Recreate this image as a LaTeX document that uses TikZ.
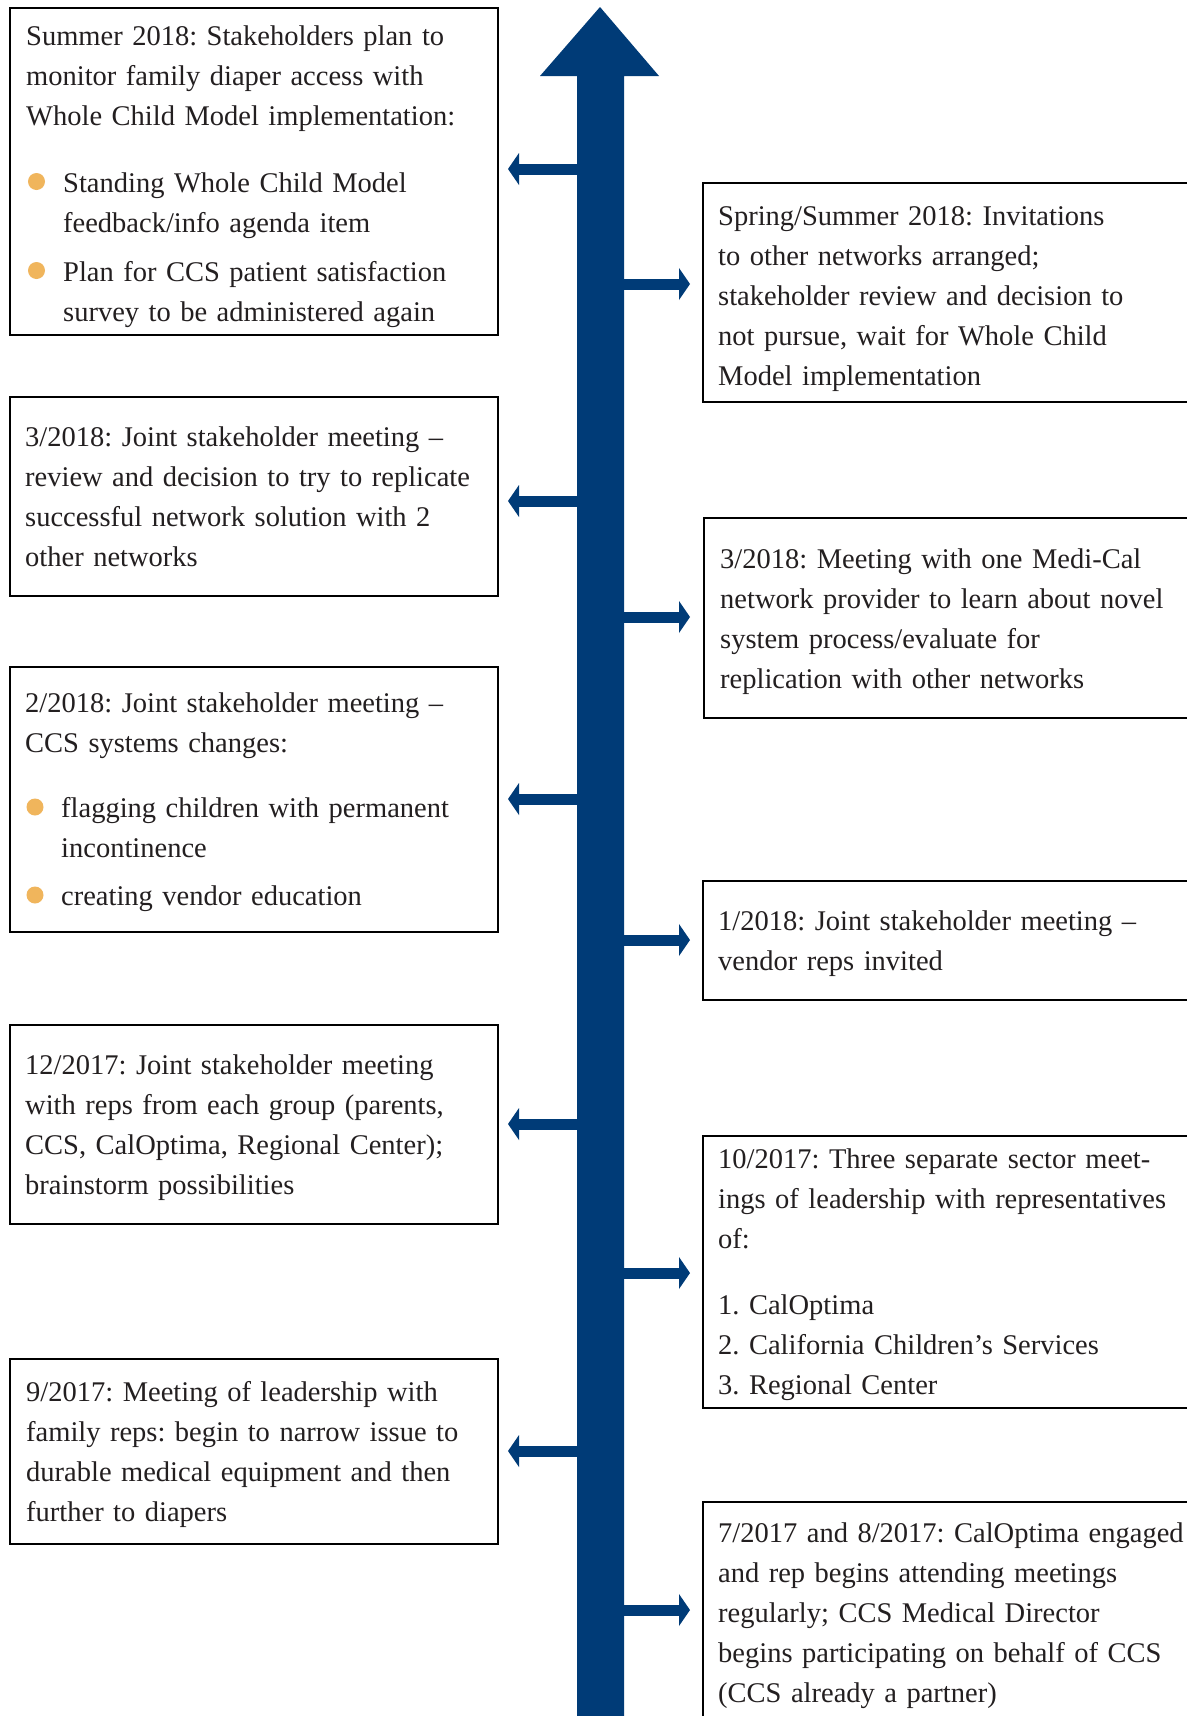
\documentclass[tikz,border=0pt]{standalone}
\usepackage{fontspec}
\setmainfont{Liberation Serif}
\usetikzlibrary{arrows.meta}
\definecolor{navy}{RGB}{0,59,119}
\definecolor{bul}{RGB}{240,181,92}
\definecolor{ink}{RGB}{35,31,32}
\frenchspacing
\begin{document}
\begin{tikzpicture}[x=1pt,y=-1pt,
  box/.style={draw=black, line width=2pt, inner sep=0pt, anchor=north west},
  txt/.style={anchor=base west, align=left, inner sep=0pt, text width=470pt, text=ink, font=\fontsize{28.5}{40}\selectfont\frenchspacing},
  evarr/.style={draw=navy, line width=11pt, -{Triangle[width=32pt,length=11pt,line width=0pt,fill=navy]}},
  dot/.style={fill=bul}
]
\fill[white] (0,0) rectangle (1186,1716);
\useasboundingbox (0,0) rectangle (1186,1716);

% timeline trunk with arrow head
\fill[navy] (577,1730) -- (577,76) -- (540,76) -- (600,7) -- (659,76) -- (624,76) -- (624,1730) -- cycle;

% boxes
\node[box, minimum width=488pt, minimum height=327pt] (L1) at (9,7) {};
\node[box, minimum width=488pt, minimum height=199pt] (L2) at (9,396) {};
\node[box, minimum width=488pt, minimum height=265pt] (L3) at (9,666) {};
\node[box, minimum width=488pt, minimum height=199pt] (L4) at (9,1024) {};
\node[box, minimum width=488pt, minimum height=185pt] (L5) at (9,1358) {};
\node[box, minimum width=500pt, minimum height=219pt] (R1) at (702,182) {};
\node[box, minimum width=500pt, minimum height=200pt] (R2) at (703,517) {};
\node[box, minimum width=500pt, minimum height=119pt] (R3) at (702,880) {};
\node[box, minimum width=500pt, minimum height=272pt] (R4) at (702,1135) {};
\node[box, minimum width=500pt, minimum height=260pt] (R5) at (702,1501) {};

% texts
\node[txt] (T1) at (26,45) {Summer 2018: Stakeholders plan to\\
monitor family diaper access with\\
Whole Child Model implementation:\\[27pt]
\hspace*{37pt}Standing Whole Child Model\\
\hspace*{37pt}feedback/info agenda item\\[9pt]
\hspace*{37pt}Plan for CCS patient satisfaction\\
\hspace*{37pt}survey to be administered again};
\fill[dot] (36.5,181.5) circle[radius=8.5pt];
\fill[dot] (36.5,270.5) circle[radius=8.5pt];

\node[txt] (T2) at (25,446) {3/2018: Joint stakeholder meeting –\\
review and decision to try to replicate\\
successful network solution with 2\\
other networks};

\node[txt] (T3) at (25,712) {2/2018: Joint stakeholder meeting –\\
CCS systems changes:\\[25pt]
\hspace*{36pt}flagging children with permanent\\
\hspace*{36pt}incontinence\\[8pt]
\hspace*{36pt}creating vendor education};
\fill[dot] (35,807) circle[radius=8.5pt];
\fill[dot] (35,895) circle[radius=8.5pt];

\node[txt] (T4) at (25,1074) {12/2017: Joint stakeholder meeting\\
with reps from each group (parents,\\
CCS, CalOptima, Regional Center);\\
brainstorm possibilities};

\node[txt] (T5) at (26,1401) {9/2017: Meeting of leadership with\\
family reps: begin to narrow issue to\\
durable medical equipment and then\\
further to diapers};

\node[txt] (S1) at (718,225) {Spring/Summer 2018: Invitations\\
to other networks arranged;\\
stakeholder review and decision to\\
not pursue, wait for Whole Child\\
Model implementation};

\node[txt] (S2) at (720,568) {3/2018: Meeting with one Medi-Cal\\
network provider to learn about novel\\
system process/evaluate for\\
replication with other networks};

\node[txt] (S3) at (718,930) {1/2018: Joint stakeholder meeting –\\
vendor reps invited};

\node[txt] (S4) at (718,1168) {10/2017: Three separate sector meet-\\
ings of leadership with representatives\\
of:\\[26pt]
1. CalOptima\\
2. California Children’s Services\\
3. Regional Center};

\node[txt] (S5) at (718,1542) {7/2017 and 8/2017: CalOptima engaged\\
and rep begins attending meetings\\
regularly; CCS Medical Director\\
begins participating on behalf of CCS\\
(CCS already a partner)};

% connector coordinates
\coordinate (tL1) at (600,169);  \coordinate (hL1) at (508,169);
\coordinate (tL2) at (600,501);  \coordinate (hL2) at (508,501);
\coordinate (tL3) at (600,799);  \coordinate (hL3) at (508,799);
\coordinate (tL4) at (600,1124); \coordinate (hL4) at (508,1124);
\coordinate (tL5) at (600,1451); \coordinate (hL5) at (508,1451);
\coordinate (tR1) at (600,284);  \coordinate (hR1) at (690,284);
\coordinate (tR2) at (600,617);  \coordinate (hR2) at (690,617);
\coordinate (tR3) at (600,940);  \coordinate (hR3) at (690,940);
\coordinate (tR4) at (600,1273); \coordinate (hR4) at (690,1273);
\coordinate (tR5) at (600,1610); \coordinate (hR5) at (690,1610);

\foreach \k in {L1,L2,L3,L4,L5,R1,R2,R3,R4,R5}
  \draw[evarr] (t\k) -- (h\k);
\end{tikzpicture}
\end{document}
